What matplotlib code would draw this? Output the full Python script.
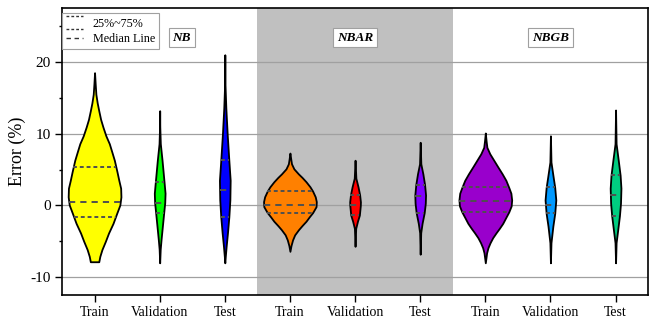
import numpy as np
import matplotlib
matplotlib.use("Agg")
import matplotlib.pyplot as plt
from matplotlib.lines import Line2D
from matplotlib.legend_handler import HandlerBase

plt.rcParams['font.family'] = 'Liberation Serif'
plt.rcParams['axes.unicode_minus'] = False

models = ['NB', 'NBAR', 'NBGB']
splits = ['Train', 'Validation', 'Test']
colors = ['#ffff00', '#00ff00', '#0000ff',
          '#ff8000', '#ff0000', '#8000ff',
          '#9900cc', '#0099ff', '#00cc80']

# error levels (%) and relative density of each distribution
nb_train_y = [-7.85, -7.1, -6.15, -5.0, -3.85, -2.5, -1.1, 0.07, 1.2, 2.4, 3.5, 4.7,
              6.3, 7.4, 8.6, 9.7, 10.9, 12.0, 13.2, 14.3, 15.5, 16.9, 18.5]
nb_train_d = [0.16, 0.20, 0.28, 0.41, 0.53, 0.70, 0.84, 0.96, 1.0, 0.99, 0.92, 0.85,
              0.75, 0.66, 0.56, 0.43, 0.32, 0.23, 0.16, 0.10, 0.05, 0.025, 0.0]
nb_val_y = [-8.0, -6.1, -4.8, -2.9, -1.0, 0.39, 1.7, 3.3, 6.3, 8.6, 11.0, 13.2]
nb_val_d = [0.0, 0.10, 0.25, 0.50, 0.75, 0.94, 1.0, 0.81, 0.44, 0.12, 0.02, 0.0]
nb_test_y = [-8.0, -7.1, -5.7, -3.8, -1.6, 0.76, 3.5, 6.3, 10.0, 13.6, 17.0, 21.0]
nb_test_d = [0.0, 0.09, 0.25, 0.50, 0.75, 0.94, 1.0, 0.75, 0.44, 0.19, 0.03, 0.0]

nbar_train_y = [-6.4, -5.6, -4.8, -4.1, -3.4, -2.8, -2.2, -1.6, -1.0, -0.17, 0.53,
                1.2, 2.0, 2.6, 3.3, 3.9, 4.4, 5.1, 5.8, 6.5, 7.3]
nbar_train_d = [0.0, 0.04, 0.10, 0.18, 0.32, 0.46, 0.61, 0.73, 0.86, 0.99, 1.0,
                0.96, 0.86, 0.76, 0.61, 0.46, 0.32, 0.15, 0.06, 0.03, 0.0]
nbar_val_y = [-5.7, -3.2, -2.2, -1.35, 0.0, 0.5, 1.5, 2.6, 3.8, 6.3]
nbar_val_d = [0.0, 0.12, 0.45, 0.80, 0.98, 1.0, 0.85, 0.55, 0.15, 0.0]
nbar_test_y = [-6.8, -3.8, -2.5, -1.0, 0.3, 1.45, 2.9, 4.4, 5.8, 8.8]
nbar_test_d = [0.0, 0.10, 0.35, 0.75, 0.95, 1.0, 0.82, 0.50, 0.12, 0.0]

nbgb_train_y = [-8.0, -6.6, -5.9, -5.2, -4.5, -3.8, -3.15, -2.5, -1.8, -0.9, -0.07,
                0.76, 1.7, 2.5, 3.5, 4.4, 5.4, 6.3, 7.2, 8.1, 9.0, 10.1]
nbgb_train_d = [0.0, 0.05, 0.10, 0.18, 0.28, 0.41, 0.54, 0.66, 0.76, 0.89, 0.98,
                1.0, 0.97, 0.89, 0.78, 0.64, 0.47, 0.32, 0.17, 0.06, 0.03, 0.0]
nbgb_val_y = [-8.0, -5.2, -2.9, -1.1, 0.76, 2.5, 4.0, 6.05, 9.7]
nbgb_val_d = [0.0, 0.10, 0.45, 0.80, 1.0, 0.80, 0.50, 0.10, 0.0]
nbgb_test_y = [-8.0, -5.2, -3.4, -1.45, 0.3, 2.4, 4.2, 6.3, 8.6, 13.3]
nbgb_test_d = [0.0, 0.10, 0.40, 0.72, 0.92, 1.0, 0.85, 0.50, 0.10, 0.0]

# lower quartile, median, upper quartile
quartiles = [(-1.55, 0.44, 5.3), (-1.0, 0.39, 3.3), (-1.6, 2.1, 6.3),
             (-1.0, 0.03, 2.0), (-1.35, 0.0, 1.5), (-1.0, 1.3, 2.9),
             (-0.9, 0.66, 2.5), (-1.1, 0.07, 2.5), (-1.45, 1.5, 4.2)]

profiles = [(nb_train_y, nb_train_d), (nb_val_y, nb_val_d), (nb_test_y, nb_test_d),
            (nbar_train_y, nbar_train_d), (nbar_val_y, nbar_val_d), (nbar_test_y, nbar_test_d),
            (nbgb_train_y, nbgb_train_d), (nbgb_val_y, nbgb_val_d), (nbgb_test_y, nbgb_test_d)]

positions = np.arange(1, 10)
widths = [0.81, 0.165, 0.165] * 3

QUART_DASH = (2.0, 1.5)
MEDIAN_DASH = (3.2, 2.6)
LINE_GRAY = '#505050'


class QuartileHandler(HandlerBase):
    """Legend symbol made of two stacked dashed lines."""
    def create_artists(self, legend, orig_handle, xdescent, ydescent,
                       width, height, fontsize, trans):
        arts = []
        yc = -ydescent + height / 2
        for off in (0.75 * height, -0.75 * height):
            ln = Line2D([-xdescent, -xdescent + width], [yc + off, yc + off])
            ln.update_from(orig_handle)
            ln.set_transform(trans)
            arts.append(ln)
        return arts


fig = plt.figure(figsize=(6.56, 3.25), dpi=100)
ax = fig.add_axes([0.0945, 0.092, 0.8935, 0.883])

ax.axvspan(3.5, 6.5, color='#c0c0c0', lw=0, zorder=0)

stats = []
for (lev, dens), (q1, med, q3) in zip(profiles, quartiles):
    stats.append(dict(coords=np.array(lev), vals=np.array(dens), mean=med,
                      median=med, min=lev[0], max=lev[-1]))

parts = ax.violin(stats, positions=positions, widths=widths,
                  showmeans=False, showextrema=False, showmedians=False)
for body, c in zip(parts['bodies'], colors):
    body.set_facecolor(c)
    body.set_edgecolor('black')
    body.set_linewidth(1.3)
    body.set_alpha(1)
    body.set_zorder(2)

# quartile and median lines clipped to the violin width
for pos, w, (lev, dens), qs in zip(positions, widths, profiles, quartiles):
    for q, dash in zip(qs, (QUART_DASH, MEDIAN_DASH, QUART_DASH)):
        half = 0.5 * w * np.interp(q, lev, dens) / max(dens)
        ax.plot([pos - half, pos + half], [q, q], color=LINE_GRAY, lw=1.4,
                dashes=dash, zorder=3, solid_capstyle='butt', dash_capstyle='butt')

ax.set_xlim(0.5, 9.5)
ax.set_ylim(-12.5, 27.5)
ax.set_xticks(positions)
ax.set_xticklabels(splits * 3, fontsize=10)
ax.set_yticks([-10, 0, 10, 20])
ax.set_yticks([-5, 5, 15, 25], minor=True)
ax.tick_params(axis='both', which='major', direction='out', length=5, width=1, pad=3)
ax.tick_params(axis='y', which='major', labelsize=11)
ax.tick_params(axis='x', which='major', labelsize=10)
ax.tick_params(axis='y', which='minor', direction='out', length=2.5, width=1)
ax.set_ylabel('Error (%)', fontsize=13, labelpad=3)

ax.set_axisbelow(True)
ax.yaxis.grid(True, color='#a0a0a0', lw=0.9)
for sp in ax.spines.values():
    sp.set_linewidth(1.2)

label_x = [2.34, 5.0, 8.0]
for x, name in zip(label_x, models):
    ax.text(x, 23.4, name, ha='center', va='center', fontsize=9.5,
            fontweight='bold', fontstyle='italic', zorder=5,
            bbox=dict(boxstyle='square,pad=0.3', fc='white', ec='#a0a0a0', lw=0.8))

q_handle = Line2D([], [], color='#333333', lw=1.0, dashes=QUART_DASH)
m_handle = Line2D([], [], color='#333333', lw=1.0, dashes=MEDIAN_DASH)
leg = ax.legend([q_handle, m_handle], ['25%~75%', 'Median Line'],
                handler_map={q_handle: QuartileHandler()},
                loc='upper left', bbox_to_anchor=(0.0, 0.982), borderaxespad=0,
                fontsize=8.7, frameon=True, fancybox=False, edgecolor='#a0a0a0',
                framealpha=1, borderpad=0.35, labelspacing=0.3,
                handlelength=1.4, handletextpad=0.8)
leg.get_frame().set_linewidth(0.8)
leg.set_zorder(6)

fig.savefig('out.png', dpi=100)
